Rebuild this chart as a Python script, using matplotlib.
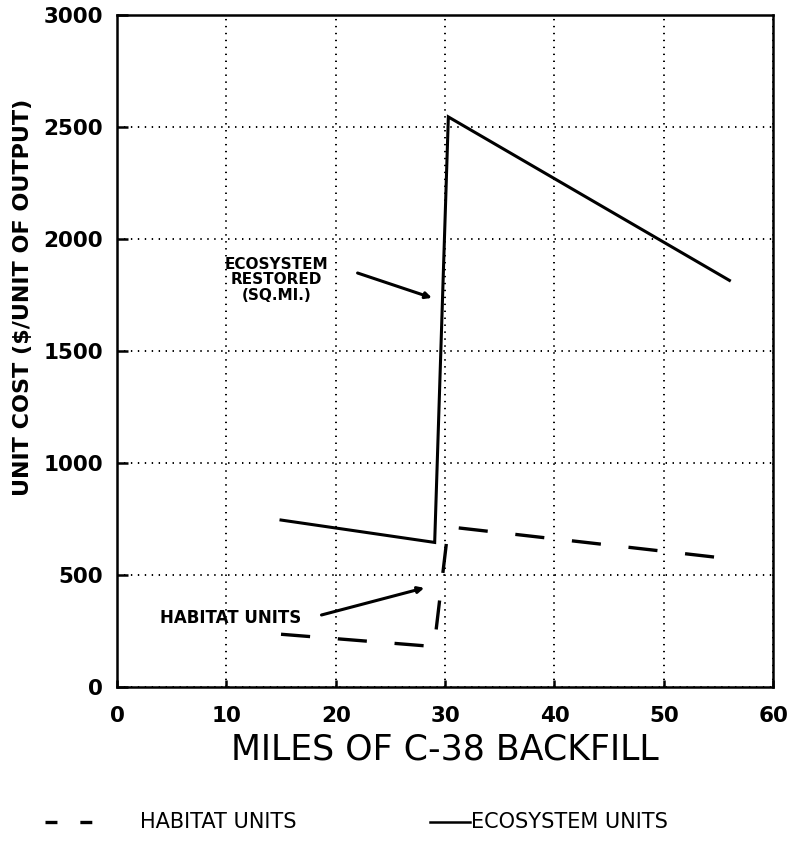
import numpy as np
import matplotlib
matplotlib.use('Agg')
import matplotlib.pyplot as plt
from matplotlib.lines import Line2D

# values
habitat_miles = [15.0, 29.0, 30.3, 56.0]
habitat_cost = [235., 180., 715., 572.]

ecosystem_miles = [15.0, 29.05, 30.3, 56.0]
ecosystem_cost = [745., 645., 2545., 1815.]

x_ticks = [0, 10, 20, 30, 40, 50, 60]
y_ticks = [0, 500, 1000, 1500, 2000, 2500, 3000]

plt.rcParams['font.family'] = 'DejaVu Sans'
plt.rcParams['lines.scale_dashes'] = False

fig = plt.figure(figsize=(7.93, 8.48), dpi=100)
ax = fig.add_axes([0.1475, 0.190, 0.8275, 0.7923])

ax.plot(ecosystem_miles, ecosystem_cost, color='k', lw=2.2,
        solid_joinstyle='miter')
hab, = ax.plot(habitat_miles, habitat_cost, color='k', lw=2.4)
hab.set_dashes((21, 20))

ax.set_xlim(0, 60)
ax.set_ylim(0, 3000)
ax.set_xticks(x_ticks)
ax.set_yticks(y_ticks)
ax.grid(True, color='k', linestyle=(0, (1, 4)), lw=1.4)
for s in ax.spines.values():
    s.set_linewidth(1.8)
ax.tick_params(axis='y', direction='in', length=8, width=1.8, labelsize=15.5, pad=10)
ax.tick_params(axis='x', direction='in', length=5, width=1.8, labelsize=15.5, pad=14)
for lab in ax.get_xticklabels() + ax.get_yticklabels():
    lab.set_fontweight('bold')

ax.set_xlabel('MILES OF C-38 BACKFILL', fontsize=25)
ax.xaxis.set_label_coords(0.5, -0.068)
ax.set_ylabel('UNIT COST ($/UNIT OF OUTPUT)', fontsize=16, fontweight='bold')
ax.yaxis.set_label_coords(-0.128, 0.579)

# callouts
ax.text(14.6, 1817, 'ECOSYSTEM\nRESTORED\n(SQ.MI.)', ha='center', va='center',
        fontsize=11, fontweight='bold', linespacing=1.05)
ax.annotate('', xy=(28.8, 1737), xytext=(22.0, 1848),
            arrowprops=dict(arrowstyle='-|>', color='k', lw=2.2,
                            mutation_scale=9, shrinkA=0, shrinkB=0))
ax.text(10.4, 308, 'HABITAT UNITS', ha='center', va='center',
        fontsize=12, fontweight='bold')
ax.annotate('', xy=(28.1, 442), xytext=(18.7, 321),
            arrowprops=dict(arrowstyle='-|>', color='k', lw=2.2,
                            mutation_scale=9, shrinkA=0, shrinkB=0))

# key below the chart
ly = 1 - 822 / 848
k1 = Line2D([45 / 793, 92 / 793], [ly, ly], color='k', lw=2.4,
            transform=fig.transFigure)
k1.set_dashes((8.6, 16.5))
fig.add_artist(k1)
fig.text(140 / 793, ly, 'HABITAT UNITS', fontsize=15, va='center', ha='left')
fig.add_artist(Line2D([430 / 793, 470 / 793], [ly, ly], color='k', lw=1.8,
                      transform=fig.transFigure))
fig.text(471 / 793, ly, 'ECOSYSTEM UNITS', fontsize=15, va='center', ha='left')

fig.savefig('out.png', dpi=100)
